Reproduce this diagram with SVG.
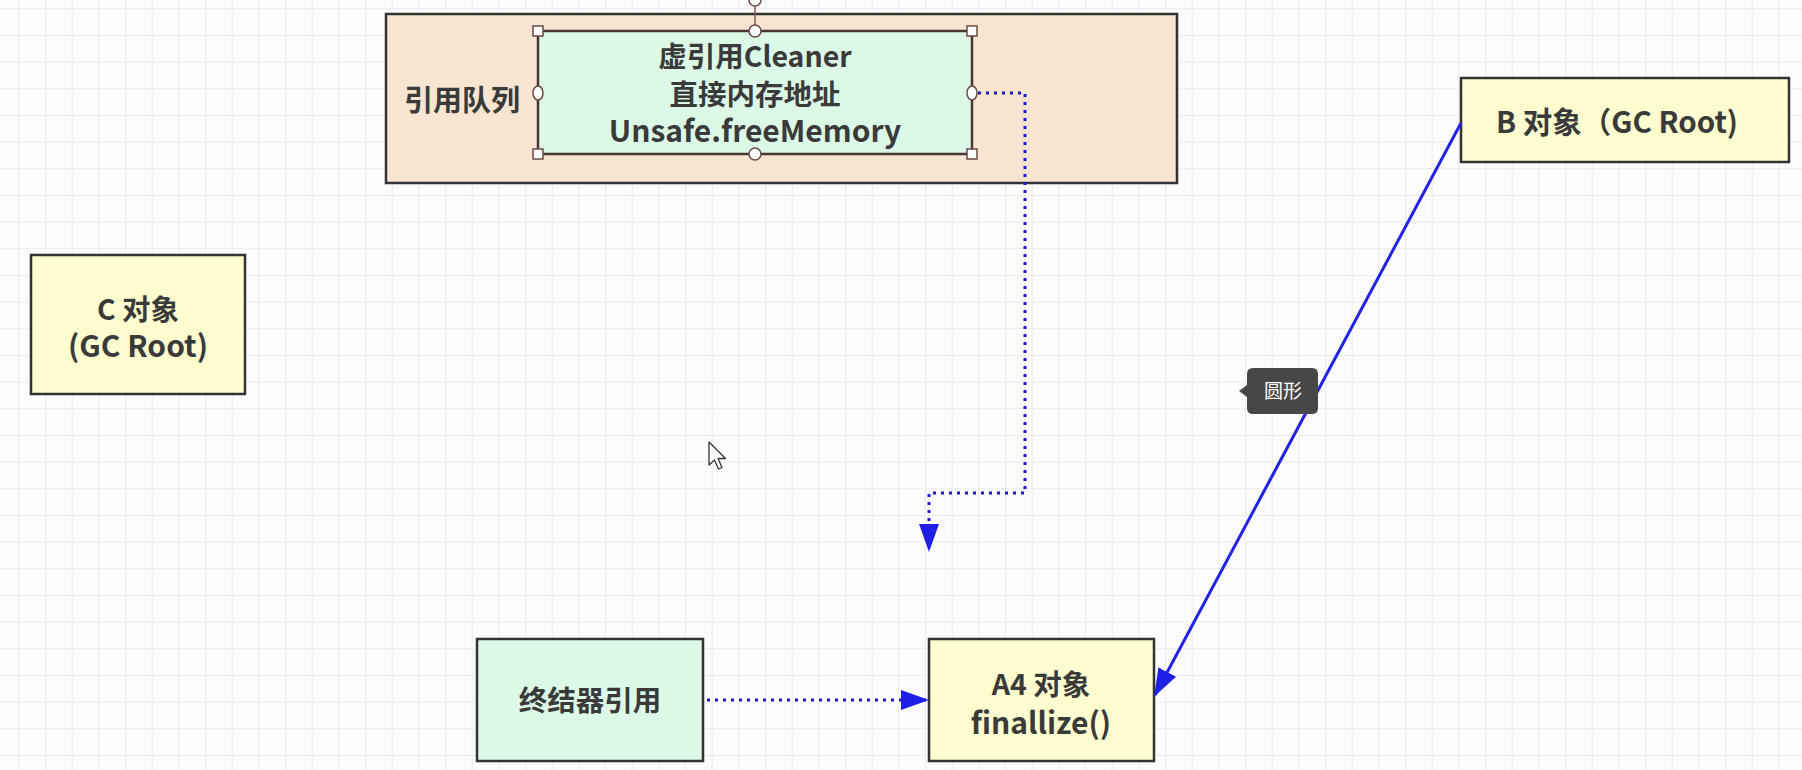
<svg xmlns="http://www.w3.org/2000/svg" width="1802" height="770" viewBox="0 0 1802 770">
<defs>
<pattern id="grid" x="18.3" y="8.3" width="26.667" height="26.667" patternUnits="userSpaceOnUse">
<path d="M0 0.5H26.667M0.5 0V26.667" fill="none" stroke="#ebebeb" stroke-width="1.2"/>
</pattern>
<marker id="arr" viewBox="0 0 28 20" refX="26" refY="10" markerWidth="28" markerHeight="20" markerUnits="userSpaceOnUse" orient="auto">
<path d="M0 0L28 10L0 20z" fill="#1f1fe6"/>
</marker>
<style>
.box{stroke:#333;stroke-width:2.5}
.yellow{fill:#fdfdcf}
.green{fill:#dcf8e6}
.t{font-family:"Noto Sans CJK SC","Noto Sans",sans-serif;font-weight:bold;font-size:28.5px;fill:#3a3a3a;text-anchor:middle}
.l{font-size:30px}
.dot{fill:none;stroke:#1c1cc8;stroke-width:3;stroke-dasharray:3 5}
.solid{fill:none;stroke:#2323e6;stroke-width:3}
.hs{fill:#fff;stroke:#6b4a44;stroke-width:1.5}
</style>
</defs>
<rect width="1802" height="770" fill="#fcfcfc"/>
<rect width="1802" height="770" fill="url(#grid)"/>

<g id="queue">
<rect x="386" y="14" width="791" height="169" fill="#f7e5d1" stroke="#333" stroke-width="2.5"/>
<text class="t" x="462" y="111" style="font-size:29px">引用队列</text>
</g>

<g id="cleaner">
<rect x="538" y="31" width="434" height="123" fill="#dcf9e7" stroke="#4a3633" stroke-width="2.5"/>
<text class="t" x="755" y="67">虚引用Cleaner</text>
<text class="t" x="755" y="105">直接内存地址</text>
<text class="t l" x="755" y="142">Unsafe.freeMemory</text>
<line x1="755" y1="0" x2="755" y2="31" stroke="#8a5a52" stroke-width="1.5"/>
<circle class="hs" cx="755" cy="0" r="6"/>
<rect class="hs" x="533" y="26" width="10" height="10"/>
<rect class="hs" x="967" y="26" width="10" height="10"/>
<rect class="hs" x="533" y="149" width="10" height="10"/>
<rect class="hs" x="967" y="149" width="10" height="10"/>
<circle class="hs" cx="755" cy="31" r="6"/>
<circle class="hs" cx="755" cy="154" r="6"/>
<ellipse class="hs" cx="538" cy="93" rx="5" ry="7"/>
<ellipse class="hs" cx="972" cy="93" rx="5" ry="7"/>
</g>

<g id="c-obj">
<rect class="box yellow" x="31" y="255" width="214" height="139"/>
<text class="t" x="138" y="320">C 对象</text>
<text class="t l" x="138" y="357">(GC Root)</text>
</g>

<g id="b-obj">
<rect class="box yellow" x="1461" y="78" width="328" height="84"/>
<text class="t" x="1617" y="133" style="font-size:29.5px">B 对象（GC Root)</text>
</g>

<g id="finalizer">
<rect class="box green" x="477" y="639" width="226" height="122"/>
<text class="t" x="590" y="711">终结器引用</text>
</g>

<g id="a4-obj">
<rect class="box yellow" x="929" y="639" width="225" height="122"/>
<text class="t" x="1041" y="695">A4 对象</text>
<text class="t l" x="1041" y="734">finallize()</text>
</g>

<g id="connectors">
<path class="dot" d="M978 93H1025V493H929V550" marker-end="url(#arr)"/>
<path class="dot" d="M707 700H927" marker-end="url(#arr)"/>
<path class="solid" d="M1461 123L1155 695" marker-end="url(#arr)"/>
</g>

<g id="tooltip">
<path d="M1253 368H1312Q1318 368 1318 374V408Q1318 414 1312 414H1253Q1247 414 1247 408V397L1239 391L1247 385V374Q1247 368 1253 368Z" fill="#474747"/>
<text x="1283" y="398" font-family="'Noto Sans CJK SC',sans-serif" font-size="19" fill="#fff" text-anchor="middle">圆形</text>
</g>

<g id="cursor">
<path d="M709 442V465L714.5 460L718.5 469L722 467.5L718 458.5H725.5Z" fill="#fff" stroke="#333" stroke-width="1.3" stroke-linejoin="round"/>
</g>
</svg>
